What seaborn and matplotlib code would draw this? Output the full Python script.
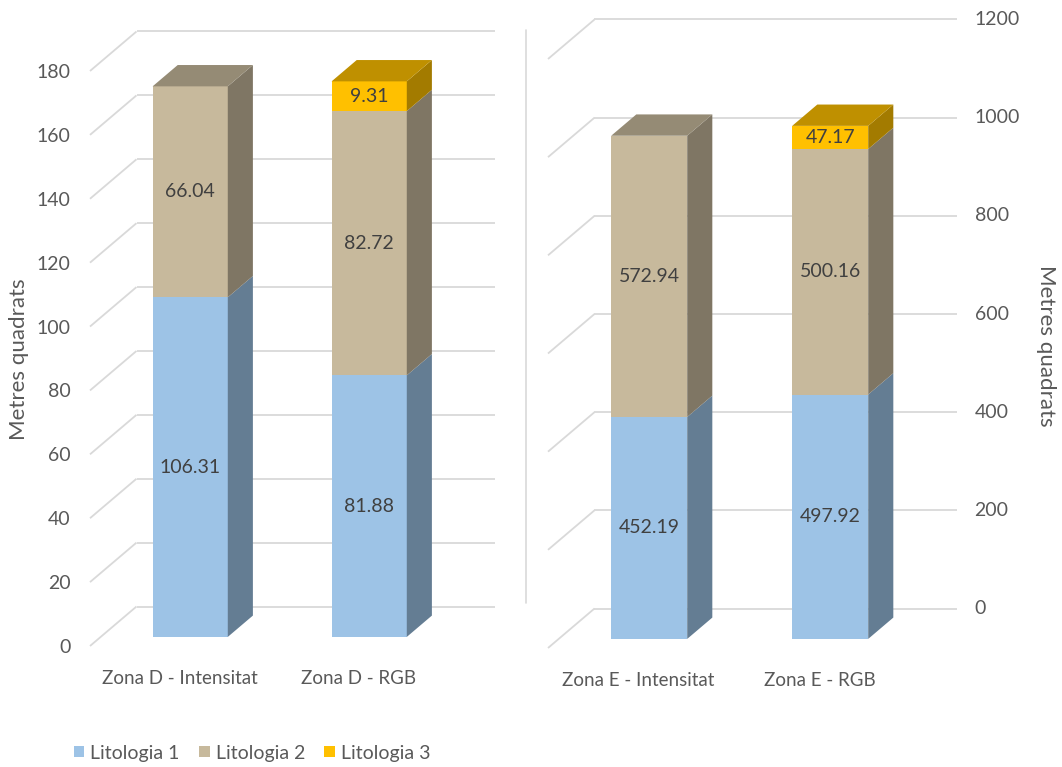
import matplotlib
matplotlib.use("Agg")
import matplotlib.pyplot as plt
import matplotlib.colors as mcolors
from matplotlib.patches import Polygon, Patch
from matplotlib.lines import Line2D
from matplotlib.transforms import ScaledTranslation, offset_copy
import seaborn as sns

# ---- data -------------------------------------------------------------
zones_d = ["Zona D - Intensitat", "Zona D - RGB"]
zones_e = ["Zona E - Intensitat", "Zona E - RGB"]
lito1_d = [106.31, 81.88]
lito2_d = [66.04, 82.72]
lito3_d = [0.0, 9.31]
lito1_e = [452.19, 497.92]
lito2_e = [572.94, 500.16]
lito3_e = [0.0, 47.17]
series_names = ["Litologia 1", "Litologia 2", "Litologia 3"]
ticks_d = [0, 20, 40, 60, 80, 100, 120, 140, 160, 180]
ticks_e = [0, 200, 400, 600, 800, 1000, 1200]
axis_title = "Metres quadrats"

# ---- style ------------------------------------------------------------
colors = ["#9DC3E6", "#C7B99C", "#FFC000"]
GRID = "#D9D9D9"
TICK_C = "#595959"
LABEL_C = "#404040"
FS = 14
FS_CAT = 13.5
FS_TITLE = 16

W, H, DPI = 1062, 767, 100
sns.set_theme(style="white")
plt.rcParams["font.family"] = ["Lato", "DejaVu Sans"]

# oblique depth vector (pixels) and bar depth span
DEPTH_X, DEPTH_Y = 46.5, 39.5
Z0, Z1 = 0.23, 0.77
BW = 0.42


def shade(c, f):
    r, g, b = mcolors.to_rgb(c)
    return (r * f, g * f, b * f)


def px_axes(fig, x0, x1, y_top, y_bot):
    return fig.add_axes([x0 / W, 1 - y_bot / H, (x1 - x0) / W, (y_bot - y_top) / H])


def draw_panel(ax, cats, s1, s2, s3, ymax, ticks):
    layers = [s1, s2, s3]
    bottoms = [[0.0] * len(cats),
               list(s1),
               [a + b for a, b in zip(s1, s2)]]
    for vals, bots, col in zip(layers, bottoms, colors):
        n_before = len(ax.patches)
        sns.barplot(x=cats, y=vals, bottom=bots, color=col, width=BW,
                    saturation=1, linewidth=0, ax=ax, zorder=3)
        shift = ScaledTranslation(Z0 * DEPTH_X / DPI, Z0 * DEPTH_Y / DPI,
                                  fig.dpi_scale_trans)
        for p in ax.patches[n_before:]:
            p.set_transform(ax.transData + shift)
            p.set_clip_on(False)

    ax.set_xlim(-0.5, len(cats) - 0.5)
    ax.set_ylim(0, ymax)
    ax.set_xlabel("")
    ax.set_ylabel("")
    for s in ax.spines.values():
        s.set_visible(False)

    # depth vector in data units
    a = ax.transData.transform((0, 0))
    b = ax.transData.transform((1, ymax))
    ux = DEPTH_X / (b[0] - a[0])
    uy = DEPTH_Y / (b[1] - a[1]) * ymax

    # back wall and side wall gridlines
    for t in ticks:
        ax.plot([-0.5, -0.5 + ux], [t, t + uy], color=GRID, lw=1.3,
                clip_on=False, zorder=1, solid_capstyle="butt")
        ax.plot([-0.5 + ux, len(cats) - 0.5 + ux], [t + uy, t + uy],
                color=GRID, lw=1.3, clip_on=False, zorder=1,
                solid_capstyle="butt")

    # side and top faces, value labels
    for i in range(len(cats)):
        xl, xr = i - BW / 2, i + BW / 2
        top_idx = max(k for k in range(3) if layers[k][i] > 0)
        for k in range(3):
            v = layers[k][i]
            if v <= 0:
                continue
            bot, top = bottoms[k][i], bottoms[k][i] + v
            side = [(xr + Z0 * ux, bot + Z0 * uy), (xr + Z1 * ux, bot + Z1 * uy),
                    (xr + Z1 * ux, top + Z1 * uy), (xr + Z0 * ux, top + Z0 * uy)]
            ax.add_patch(Polygon(side, closed=True, facecolor=shade(colors[k], 0.64),
                                 edgecolor="none", clip_on=False, zorder=3))
            if k == top_idx:
                lid = [(xl + Z0 * ux, top + Z0 * uy), (xr + Z0 * ux, top + Z0 * uy),
                       (xr + Z1 * ux, top + Z1 * uy), (xl + Z1 * ux, top + Z1 * uy)]
                ax.add_patch(Polygon(lid, closed=True, facecolor=shade(colors[k], 0.75),
                                     edgecolor="none", clip_on=False, zorder=3))
            ax.text(i + Z0 * ux, bot + v / 2 + Z0 * uy, f"{v:.2f}",
                    ha="center", va="center", fontsize=FS, color=LABEL_C, zorder=5)

    ax.tick_params(axis="x", length=0, pad=17, labelsize=FS_CAT, labelcolor=TICK_C)
    return ux, uy


fig = plt.figure(figsize=(W / DPI, H / DPI), dpi=DPI)
fig.patch.set_facecolor("white")

# left chart: Zona D
ax_d = px_axes(fig, 90, 448, 71, 646)
draw_panel(ax_d, zones_d, lito1_d, lito2_d, lito3_d, 180, ticks_d)
ax_d.set_yticks(ticks_d)
ax_d.set_yticklabels([str(t) for t in ticks_d])
ax_d.tick_params(axis="y", length=0, pad=14, labelsize=FS, labelcolor=TICK_C)

# right chart: Zona E, value axis on the right of the back wall
ax_e = px_axes(fig, 548, 910, 59, 648)
ux_e, uy_e = draw_panel(ax_e, zones_e, lito1_e, lito2_e, lito3_e, 1200, ticks_e)
ax_e.set_yticks([])
lab_tr = offset_copy(ax_e.transData, fig=fig, x=18, y=0, units="dots")
for t in ticks_e:
    ax_e.text(len(zones_e) - 0.5 + ux_e, t + uy_e, str(t), transform=lab_tr,
              ha="left", va="center", fontsize=FS, color=TICK_C, clip_on=False)

# axis titles
fig.text(19 / W, 1 - 359 / H, axis_title, rotation=90, ha="center", va="center",
         fontsize=FS_TITLE, color=TICK_C)
fig.text(1046 / W, 1 - 346 / H, axis_title, rotation=270, ha="center", va="center",
         fontsize=FS_TITLE, color=TICK_C)

# divider between the two charts
fig.add_artist(Line2D([526 / W, 526 / W], [1 - 30 / H, 1 - 603 / H],
                      color=GRID, lw=1.2))

# legend
handles = [Patch(facecolor=c, edgecolor="none") for c in colors]
fig.legend(handles, series_names, loc="center", bbox_to_anchor=(252 / W, 1 - 753 / H),
           ncol=3, frameon=False, fontsize=FS, labelcolor=TICK_C,
           handlelength=0.55, handleheight=0.55, handletextpad=0.3,
           columnspacing=1.0)

fig.savefig("out.png", dpi=DPI, facecolor="white")
